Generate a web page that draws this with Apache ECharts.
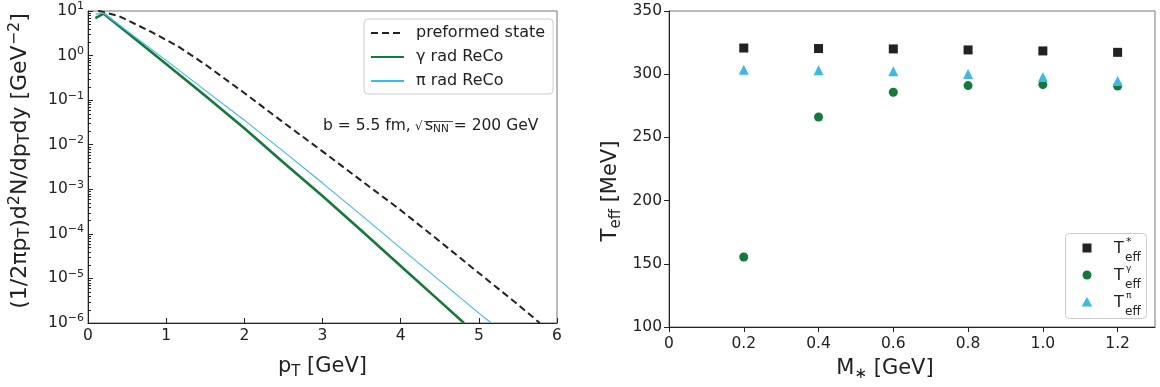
<!DOCTYPE html>
<html>
<head>
<meta charset="utf-8">
<script src="https://cdn.jsdelivr.net/npm/echarts@6/dist/echarts.min.js"></script>
<style>
  html, body { margin: 0; padding: 0; background: #fff; }
  #chart { width: 1160px; height: 387px; }
</style>
</head>
<body>
<div id="chart"></div>
<script>
// left panel: pT spectra
const ptPre = [0.13, 0.17, 0.4, 0.8, 1.15, 1.5, 2.0, 2.5, 3.0, 3.5, 4.0, 4.5, 5.0, 5.5, 5.78];
const preformed = [10, 9.8, 7.6, 3.47, 1.62, 0.63, 0.145, 0.0316, 7.1e-3, 1.55e-3, 3.4e-4, 6.8e-5, 1.32e-5, 2.6e-6, 1e-6];
const ptGamma = [0.094, 0.2, 0.5, 1.0, 1.5, 2.0, 2.5, 3.0, 3.5, 4.0, 4.5, 4.81];
const gammaRad = [6.9, 8.7, 3.3, 0.65, 0.126, 0.0234, 4.0e-3, 7.1e-4, 1.17e-4, 1.9e-5, 3.1e-6, 1e-6];
const ptPi = [0.1, 0.2, 0.5, 1.0, 1.5, 2.0, 2.5, 3.0, 3.5, 4.0, 4.5, 5.0, 5.16];
const piRad = [8.5, 8.9, 3.55, 0.78, 0.166, 0.0355, 7.1e-3, 1.38e-3, 2.6e-4, 4.8e-5, 8.9e-6, 1.66e-6, 1e-6];

// log-axis minor ticks (2..9 of every decade)
const minorMantissa = [2, 3, 4, 5, 6, 7, 8, 9];
const decades = [1e-6, 1e-5, 1e-4, 1e-3, 1e-2, 1e-1, 1];

// right panel: effective temperatures
const mass = [0.2, 0.4, 0.6, 0.8, 1.0, 1.2];
const tStar = [320.7, 320.3, 320.0, 319.2, 318.4, 317.3];
const tGamma = [155.4, 266.1, 285.7, 291.0, 291.8, 290.7];
const tPi = [303.6, 303.1, 302.3, 300.2, 297.8, 294.6];

const GREEN = '#137a3a';
const BLUE = '#3cb8ea';
const BLACK = '#222222';
const FONT = 'DejaVu Sans';

const pairs = (xs, ys) => xs.map((x, i) => [x, ys[i]]);
const minorTicks = decades.flatMap(d => minorMantissa.map(m => m * d));

const sub = { fontSize: 15, verticalAlign: 'bottom', lineHeight: 14, fontFamily: FONT, color: BLACK };
const sup = { fontSize: 15, verticalAlign: 'top', lineHeight: 14, fontFamily: FONT, color: BLACK };
const big = { fontSize: 21, lineHeight: 26, fontFamily: FONT, color: BLACK };

const axisLine = { show: true, lineStyle: { color: BLACK, width: 1 } };
const tickLabel = { fontSize: 15.5, fontFamily: FONT, color: BLACK };

const txt = (x, y, text, size) => ({
  type: 'text', x, y,
  style: { text, fontSize: size, fontFamily: FONT, fill: BLACK, verticalAlign: 'middle' }
});

const baseGraphics = [
  // annotation in the left panel
  Object.assign(txt(323, 126, 'b = 5.5 fm,', 15.5), { z: 10 }),
  Object.assign(txt(415, 127, '√', 12), { z: 10 }),
  {
    type: 'text', x: 425, y: 126, z: 10,
    style: {
      text: '{n|s}{s|NN}{n| = 200 GeV}', verticalAlign: 'middle',
      rich: {
        n: { fontSize: 15.5, lineHeight: 18, fontFamily: FONT, fill: BLACK },
        s: { fontSize: 10.5, lineHeight: 10, verticalAlign: 'bottom', fontFamily: FONT, fill: BLACK }
      }
    }
  },
  { type: 'line', z: 10, shape: { x1: 424, y1: 121.5, x2: 453, y2: 121.5 }, style: { stroke: BLACK, lineWidth: 0.8 } },
  // legend of the right panel
  {
    type: 'group', z: 20,
    children: [
      { type: 'rect', shape: { x: 1065.5, y: 233.5, width: 81, height: 85, r: 4 }, style: { fill: 'rgba(255,255,255,0.8)', stroke: '#cccccc', lineWidth: 1 } },
      { type: 'rect', shape: { x: 1082.5, y: 243.5, width: 9, height: 9 }, style: { fill: BLACK } },
      { type: 'circle', shape: { cx: 1087, cy: 275, r: 4.5 }, style: { fill: GREEN } },
      { type: 'polygon', shape: { points: [[1087, 297], [1092.3, 306.5], [1081.7, 306.5]] }, style: { fill: BLUE } },
      txt(1114, 249, 'T', 16), txt(1125, 258, 'eff', 12), txt(1126, 242, '*', 11),
      txt(1114, 276, 'T', 16), txt(1125, 285, 'eff', 12), txt(1126, 269, 'γ', 9),
      txt(1114, 303, 'T', 16), txt(1125, 312, 'eff', 12), txt(1126, 296, 'π', 9)
    ]
  }
];

const chart = echarts.init(document.getElementById('chart'));

chart.setOption({
  animation: false,
  textStyle: { fontFamily: FONT },
  grid: [
    { left: 88, right: 603, top: 11, bottom: 64, show: true, borderColor: '#777', borderWidth: 1 },
    { left: 669, right: 5, top: 11, bottom: 60, show: true, borderColor: '#777', borderWidth: 1 }
  ],
  xAxis: [
    {
      gridIndex: 0, type: 'value', min: 0, max: 6, interval: 1,
      axisLine, splitLine: { show: false },
      axisTick: { inside: true, length: 5, lineStyle: { color: BLACK } },
      axisLabel: Object.assign({ margin: 5 }, tickLabel),
      name: '{n|p}{s|T}{n| [GeV]}', nameLocation: 'middle', nameGap: 31,
      nameTextStyle: { rich: { n: big, s: sub } }
    },
    {
      gridIndex: 1, type: 'value', min: 0, max: 1.3, interval: 0.2,
      axisLine, splitLine: { show: false },
      axisTick: { length: 5, lineStyle: { color: BLACK } },
      axisLabel: Object.assign({
        margin: 9, showMaxLabel: false,
        formatter: v => (v === 0 ? '0' : v.toFixed(1))
      }, tickLabel),
      name: '{n|M}{s|∗}{n| [GeV]}', nameLocation: 'middle', nameGap: 29,
      nameTextStyle: { padding: [0, 54, 0, 0], rich: { n: big, s: sub } }
    }
  ],
  yAxis: [
    {
      gridIndex: 0, type: 'log', logBase: 10, min: 1e-6, max: 10, splitNumber: 7,
      axisLine, splitLine: { show: false },
      axisTick: { inside: true, length: 5, lineStyle: { color: BLACK } },
      axisLabel: Object.assign({
        margin: 4,
        formatter: v => {
          const e = Math.round(Math.log10(v));
          return '{b|10}{p|' + String(e).replace('-', '−') + '}';
        },
        rich: {
          b: { fontSize: 15.5, lineHeight: 20, fontFamily: FONT, color: BLACK },
          p: { fontSize: 11, lineHeight: 11, verticalAlign: 'top', fontFamily: FONT, color: BLACK }
        }
      }, tickLabel),
      name: '{n|(1/2πp}{s|T}{n|)d}{p|2}{n|N/dp}{s|T}{n|dy [GeV}{p|−2}{n|]}',
      nameLocation: 'middle', nameGap: 55, nameRotate: 90,
      nameTextStyle: {
        padding: [0, 0, 0, 12],
        rich: {
          n: Object.assign({}, big, { fontSize: 22 }),
          s: Object.assign({}, sub, { fontSize: 16 }),
          p: Object.assign({}, sup, { fontSize: 16 })
        }
      }
    },
    {
      gridIndex: 1, type: 'value', min: 100, max: 350, interval: 50,
      axisLine, splitLine: { show: false },
      axisTick: { length: 5, lineStyle: { color: BLACK } },
      axisLabel: Object.assign({ margin: 7 }, tickLabel),
      name: '{n|T}{s|eff}{n| [MeV]}', nameLocation: 'middle', nameGap: 45, nameRotate: 90,
      nameTextStyle: { padding: [0, 44, 0, 0], rich: { n: big, s: sub } }
    }
  ],
  legend: {
    data: ['preformed state', 'γ rad ReCo', 'π rad ReCo'],
    orient: 'vertical', left: 364, top: 19,
    padding: [6, 8, 5, 6],
    itemWidth: 33, itemHeight: 12, itemGap: 8,
    itemStyle: { opacity: 0 },
    borderColor: '#cccccc', borderWidth: 1, borderRadius: 4,
    backgroundColor: 'rgba(255,255,255,0.8)',
    textStyle: { fontSize: 16, fontFamily: FONT, color: BLACK, padding: [0, 0, 0, 7] }
  },
  series: [
    {
      name: 'preformed state', type: 'line', xAxisIndex: 0, yAxisIndex: 0,
      data: pairs(ptPre, preformed), symbol: 'none',
      lineStyle: { color: BLACK, width: 2, type: [7, 4] }, itemStyle: { color: BLACK }
    },
    {
      name: 'γ rad ReCo', type: 'line', xAxisIndex: 0, yAxisIndex: 0,
      data: pairs(ptGamma, gammaRad), symbol: 'none',
      lineStyle: { color: GREEN, width: 2.6 }, itemStyle: { color: GREEN }
    },
    {
      name: 'π rad ReCo', type: 'line', xAxisIndex: 0, yAxisIndex: 0,
      data: pairs(ptPi, piRad), symbol: 'none',
      lineStyle: { color: BLUE, width: 1.1 }, itemStyle: { color: BLUE }
    },
    {
      name: 'T*', type: 'scatter', xAxisIndex: 1, yAxisIndex: 1,
      data: pairs(mass, tStar), symbol: 'rect', symbolSize: 9,
      itemStyle: { color: BLACK, opacity: 1 }
    },
    {
      name: 'Tγ', type: 'scatter', xAxisIndex: 1, yAxisIndex: 1,
      data: pairs(mass, tGamma), symbol: 'circle', symbolSize: 9,
      itemStyle: { color: GREEN, opacity: 1 }
    },
    {
      name: 'Tπ', type: 'scatter', xAxisIndex: 1, yAxisIndex: 1,
      data: pairs(mass, tPi), symbol: 'triangle', symbolSize: 10,
      itemStyle: { color: BLUE, opacity: 1 }
    }
  ],
  graphic: baseGraphics
});

// minor ticks of the log axis, placed through the axis scale
const minorGraphics = minorTicks.map(v => {
  const p = chart.convertToPixel({ gridIndex: 0 }, [0, v]);
  const y = Math.round(p[1]) + 0.5;
  return {
    type: 'line', silent: true, z: 5,
    shape: { x1: p[0], y1: y, x2: p[0] + 3, y2: y },
    style: { stroke: BLACK, lineWidth: 1 }
  };
});
chart.setOption({ graphic: baseGraphics.concat(minorGraphics) });
</script>
</body>
</html>
